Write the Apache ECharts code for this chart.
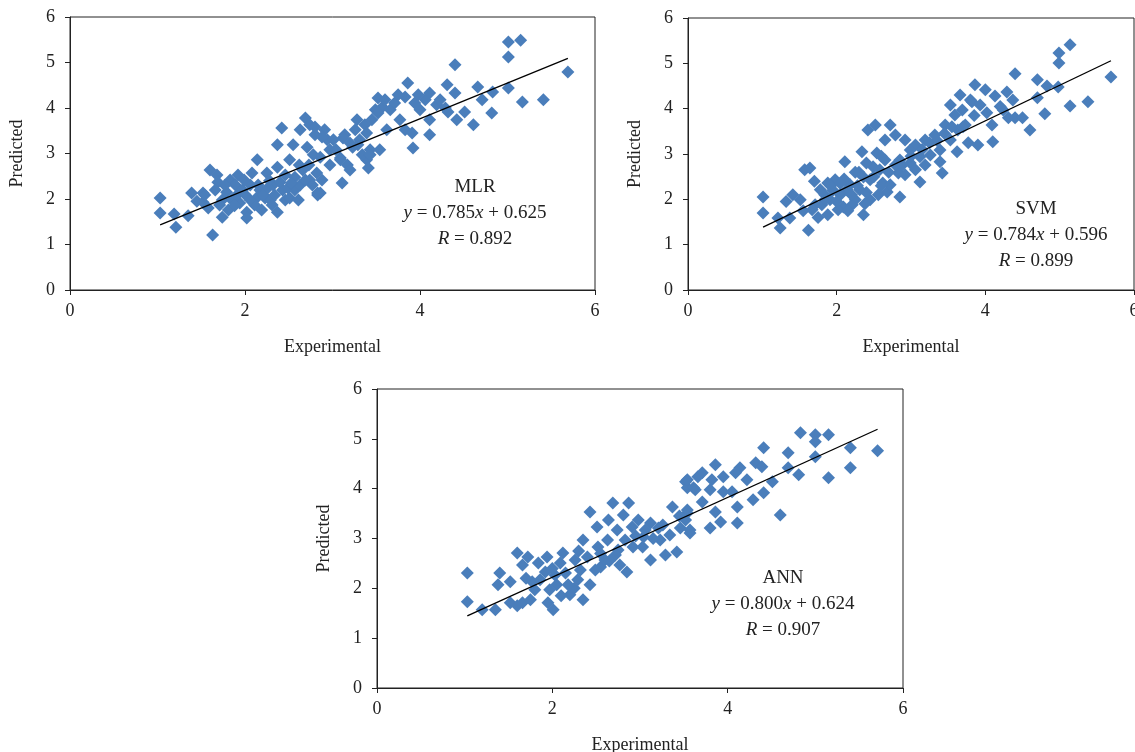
<!DOCTYPE html>
<html>
<head>
<meta charset="utf-8">
<title>MLR / SVM / ANN predicted vs experimental</title>
<script src="https://cdn.jsdelivr.net/npm/echarts@6/dist/echarts.min.js"></script>
<style>
  html, body { margin: 0; padding: 0; background: #fff; }
  #chart { width: 1135px; height: 752px; }
</style>
</head>
<body>
<div id="chart"></div>
<script>
// MLR points [experimental, predicted]
var mlrPoints = [
  [1.03,2.02],[1.03,1.69],[1.19,1.67],[1.21,1.38],[1.35,1.63],[1.39,2.13],[1.52,2.13],[1.52,1.93],
  [1.60,2.64],[1.63,1.21],[1.68,2.53],[1.69,2.37],[1.74,1.98],[1.74,1.60],[1.79,2.15],[1.83,2.42],
  [1.92,2.53],[1.94,1.91],[1.54,2.09],[1.66,2.20],[1.71,1.87],[1.81,1.76],[1.89,2.31],[1.97,2.20],
  [2.02,1.71],[2.02,1.58],[2.08,2.57],[2.14,2.86],[2.14,2.04],[2.25,2.57],[2.23,2.02],[2.32,2.31],
  [2.37,2.70],[2.37,1.71],[2.43,2.20],[2.06,2.31],[2.11,1.87],[2.17,2.20],[2.19,1.76],[2.29,1.98],
  [2.34,2.09],[2.42,3.56],[2.46,1.98],[2.51,2.86],[2.51,2.02],[2.57,2.48],[2.55,3.19],[2.37,3.19],
  [2.66,2.64],[2.71,3.14],[2.82,2.57],[2.86,2.13],[2.86,2.92],[2.94,3.30],[2.69,3.78],[2.63,3.52],
  [2.74,3.63],[2.80,3.41],[2.91,3.52],[2.61,1.98],[2.77,2.31],[2.83,2.09],[2.88,2.42],[2.97,3.08],
  [3.09,2.90],[3.11,2.35],[3.17,2.75],[3.23,3.14],[3.14,3.41],[3.26,3.52],[3.31,3.30],[3.37,3.63],
  [3.43,3.08],[3.20,2.64],[3.49,3.96],[3.45,3.74],[3.39,2.86],[3.29,3.19],[3.34,2.97],[3.52,4.22],
  [3.57,4.02],[3.66,3.96],[3.83,4.24],[3.86,4.55],[3.94,4.11],[4.00,3.96],[4.11,4.33],[4.11,3.74],
  [4.11,3.41],[4.19,4.07],[4.31,4.51],[4.32,3.91],[4.40,4.33],[4.42,3.74],[4.51,3.91],[4.61,3.63],
  [4.71,4.18],[4.82,3.89],[4.83,4.35],[5.01,4.44],[5.17,4.13],[5.41,4.18],[5.01,5.45],[5.15,5.49],
  [5.01,5.12],[5.69,4.79],[4.66,4.46],[4.40,4.95],[2.80,3.58],[2.88,3.36],[3.12,3.34],[3.20,3.23],
  [3.39,3.45],[3.43,2.97],[3.41,2.68],[3.54,3.08],[3.52,3.89],[3.62,3.52],[3.77,3.74],[3.83,3.52],
  [3.91,3.45],[3.92,3.12],[2.83,2.13],[2.74,2.42],[2.97,2.75],[3.09,2.86],[1.85,1.98],[1.90,2.07],
  [1.99,2.42],[2.06,1.98],[2.15,2.31],[2.21,2.09],[2.26,2.24],[2.31,1.87],[2.40,2.37],[2.46,2.53],
  [2.49,2.24],[2.57,2.20],[2.63,2.31],[2.69,2.42],[2.73,2.75],[2.78,2.97],[3.01,3.30],[3.04,3.08],
  [3.28,3.74],[3.60,4.18],[3.71,4.11],[3.75,4.29],[4.06,4.18],[4.23,4.18],[4.29,4.00],[3.98,4.29],
  [1.45,1.95],[1.58,1.80],[1.77,2.30],[1.88,1.85],[2.00,2.10],[2.28,2.40],[2.53,2.35],[2.62,2.75]
];

// SVM points
var svmPoints = [
  [1.01,2.05],[1.01,1.70],[1.21,1.59],[1.24,1.37],[1.37,1.59],[1.41,2.10],[1.57,2.65],[1.62,1.32],
  [1.64,2.69],[2.11,2.83],[2.34,3.05],[1.88,2.36],[1.78,2.21],[1.91,1.99],[1.88,1.66],[2.09,1.83],
  [2.14,2.21],[2.36,1.66],[2.36,2.49],[2.49,2.72],[2.54,3.02],[2.62,2.36],[2.68,2.16],[2.85,2.05],
  [2.83,2.58],[2.99,2.80],[3.12,2.38],[3.12,2.94],[3.42,2.58],[3.39,2.83],[3.62,3.05],[3.77,3.25],
  [4.10,3.27],[5.14,5.41],[4.99,5.23],[4.99,5.01],[5.69,4.70],[5.38,4.15],[5.14,4.06],[4.80,3.89],
  [4.60,3.53],[4.70,4.64],[4.83,4.50],[4.98,4.48],[4.70,4.24],[4.40,4.77],[4.29,4.37],[4.13,4.28],
  [4.37,4.19],[3.86,4.53],[3.82,4.15],[3.93,4.08],[4.02,3.91],[4.09,3.64],[4.24,3.97],[4.31,3.80],
  [4.40,3.80],[4.50,3.80],[3.90,3.20],[2.42,3.53],[2.72,3.64],[2.79,3.42],[2.92,3.31],[3.06,3.20],
  [3.19,3.31],[3.32,3.42],[3.46,3.64],[3.53,4.08],[3.59,3.86],[3.69,3.97],[3.73,3.64],[3.53,3.31],
  [3.63,3.53],[3.39,3.09],[3.26,2.98],[3.19,2.76],[3.06,2.65],[2.92,2.54],[2.79,2.76],[2.65,2.87],
  [2.58,2.65],[2.45,2.43],[2.31,2.21],[2.25,1.99],[2.18,2.32],[2.05,2.10],[1.98,2.43],[1.84,2.10],
  [1.71,1.88],[1.67,1.77],[1.51,1.99],[1.80,1.88],[2.02,1.77],[2.21,1.88],[2.45,1.99],[2.56,2.10],
  [2.72,2.32],[2.85,2.87],[2.99,3.09],[2.65,3.31],[2.52,3.64],[3.80,4.19],[3.66,4.30],[4.00,4.42],
  [1.70,2.40],[1.95,2.20],[2.10,2.45],[2.28,2.30],[2.40,2.15],[2.50,2.50],[2.60,2.30],[2.70,2.60],
  [2.88,2.75],[3.00,2.95],[3.15,3.10],[3.25,3.25],[3.35,3.30],[3.45,3.45],[3.55,3.60],[3.70,3.60],
  [3.85,3.85],[4.20,4.05],[1.92,2.30],[2.20,2.10],[2.30,2.60],[2.60,2.95],[2.40,2.80],[2.00,1.95],
  [1.32,1.95],[1.55,1.75],[1.75,1.60],[1.85,2.00],[2.15,1.75],[2.38,1.90],[2.05,2.35],[2.25,2.60]
];

// ANN points
var annPoints = [
  [1.03,2.31],[1.03,1.73],[1.20,1.57],[1.35,1.57],[1.40,2.31],[1.38,2.07],[1.52,2.13],[1.52,1.71],
  [1.60,2.71],[1.66,2.47],[1.72,2.63],[1.77,2.13],[1.66,1.71],[1.75,1.77],[1.84,2.51],[1.92,2.33],
  [1.94,2.63],[1.95,1.71],[2.01,1.57],[2.05,2.07],[2.12,2.71],[2.09,2.51],[2.15,2.31],[2.20,1.87],
  [2.26,2.57],[2.29,2.17],[2.35,1.77],[2.35,2.97],[2.43,3.53],[2.40,2.63],[2.51,3.23],[2.52,2.83],
  [2.55,2.43],[2.63,2.97],[2.64,3.37],[2.69,3.71],[2.74,3.17],[2.75,2.77],[2.81,3.47],[2.85,2.33],
  [2.87,3.71],[2.91,3.23],[2.92,2.83],[2.98,3.37],[3.03,2.83],[3.04,3.03],[3.12,3.31],[3.12,2.57],
  [3.21,3.21],[3.26,3.27],[3.37,3.63],[3.42,2.73],[3.46,3.21],[3.52,4.14],[3.54,4.02],[3.54,3.51],
  [3.57,3.11],[3.63,3.98],[3.66,4.24],[4.83,5.12],[5.00,5.08],[5.15,5.08],[5.00,4.94],[5.71,4.76],
  [5.40,4.82],[5.40,4.42],[5.15,4.22],[5.00,4.64],[4.81,4.28],[4.69,4.72],[4.69,4.42],[4.60,3.47],
  [4.41,4.82],[4.32,4.52],[4.39,4.44],[4.51,4.14],[4.41,3.92],[4.29,3.78],[4.22,4.18],[4.14,4.42],
  [4.09,4.32],[4.11,3.63],[4.11,3.31],[4.05,3.94],[3.95,4.24],[3.95,3.94],[3.86,4.48],[3.82,4.18],
  [3.80,3.98],[3.80,3.21],[3.71,4.32],[3.71,3.73],[3.86,3.53],[3.92,3.33],[3.54,4.18],[3.54,3.57],
  [3.61,4.02],[3.52,3.37],[3.57,3.17],[1.86,2.17],[2.03,2.27],[2.18,2.07],[2.43,2.07],[2.60,2.57],
  [2.72,2.67],[2.83,2.97],[2.49,2.37],[2.32,2.37],[1.97,1.97],[1.80,1.97],[2.77,2.47],[3.06,3.17],
  [3.23,2.97],[3.29,2.67],[3.34,3.07],[1.60,1.65],[1.70,2.20],[2.10,1.85],[2.25,2.00],[2.55,2.70],
  [2.65,2.55],[2.95,3.05],[3.15,3.00],[3.45,3.45],[2.30,2.75],[2.00,2.40]
];

// model names, regression coefficients, R
var modelNames = ["MLR", "SVM", "ANN"];
var slopes = [0.785, 0.784, 0.800];
var intercepts = [0.625, 0.596, 0.624];
var rValues = [0.892, 0.899, 0.907];
var xTicks = [0, 2, 4, 6];
var yTicks = [0, 1, 2, 3, 4, 5, 6];

var pointSets = [mlrPoints, svmPoints, annPoints];
var serif = "'Liberation Serif', 'DejaVu Serif', serif";
var dotColor = "#4A7EBB";

var grids = [
  { left: 70, top: 17, width: 525, height: 273 },
  { left: 688, top: 18, width: 446, height: 272 },
  { left: 377, top: 389, width: 526, height: 299 }
];

function fitLine (pts, k, b) {
  var xs = pts.map(function (p) { return p[0]; });
  var x0 = Math.min.apply(null, xs), x1 = Math.max.apply(null, xs);
  return [[x0, k * x0 + b], [x1, k * x1 + b]];
}

var option = {
  backgroundColor: "#fff",
  animation: false,
  textStyle: { fontFamily: serif },
  grid: grids.map(function (g) {
    return Object.assign({
      show: true,
      borderColor: "#222",
      borderWidth: 1,
      backgroundColor: "transparent",
      containLabel: false,
      outerBoundsMode: "none"
    }, g);
  }),
  xAxis: grids.map(function (g, i) {
    return {
      gridIndex: i,
      type: "value",
      min: xTicks[0],
      max: xTicks[xTicks.length - 1],
      interval: 2,
      name: "Experimental",
      nameLocation: "middle",
      nameGap: 48,
      nameTextStyle: { fontFamily: serif, fontSize: 18, color: "#222" },
      axisLine: { lineStyle: { color: "#222", width: 1 } },
      axisTick: { show: true, length: 5, lineStyle: { color: "#222" } },
      axisLabel: { fontFamily: serif, fontSize: 18, color: "#222", margin: 12 },
      splitLine: { show: false }
    };
  }),
  yAxis: grids.map(function (g, i) {
    return {
      gridIndex: i,
      type: "value",
      min: yTicks[0],
      max: yTicks[yTicks.length - 1],
      interval: 1,
      name: "Predicted",
      nameLocation: "middle",
      nameGap: 44,
      nameRotate: 90,
      nameTextStyle: { fontFamily: serif, fontSize: 18, color: "#222" },
      axisLine: { show: true, lineStyle: { color: "#222", width: 1 } },
      axisTick: { show: true, length: 5, lineStyle: { color: "#222" } },
      axisLabel: { fontFamily: serif, fontSize: 18, color: "#222", margin: 15 },
      splitLine: { show: false }
    };
  }),
  series: [],
  graphic: []
};

pointSets.forEach(function (pts, i) {
  option.series.push({
    type: "scatter",
    xAxisIndex: i,
    yAxisIndex: i,
    symbol: "diamond",
    symbolSize: 13,
    itemStyle: { color: dotColor, opacity: 1 },
    data: pts
  });
  option.series.push({
    type: "line",
    xAxisIndex: i,
    yAxisIndex: i,
    symbol: "none",
    lineStyle: { color: "#000", width: 1.3 },
    data: fitLine(pts, slopes[i], intercepts[i]),
    z: 3
  });
});

// annotation text anchors (centre x, top y of first line)
var notePos = [[475, 174], [1036, 196], [783, 565]];
notePos.forEach(function (p, i) {
  option.graphic.push({
    type: "text",
    x: p[0],
    y: p[1],
    style: {
      text: modelNames[i] + "\n{i|y} = " + slopes[i].toFixed(3) + "{i|x} + " + intercepts[i].toFixed(3) +
        "\n{i|R} = " + rValues[i].toFixed(3),
      align: "center",
      verticalAlign: "top",
      fontFamily: serif,
      fontSize: 19,
      lineHeight: 26,
      fill: "#222",
      rich: {
        i: { fontFamily: serif, fontSize: 19, fontStyle: "italic", fill: "#222" }
      }
    }
  });
});

var chart = echarts.init(document.getElementById("chart"));
chart.setOption(option);
</script>
</body>
</html>
